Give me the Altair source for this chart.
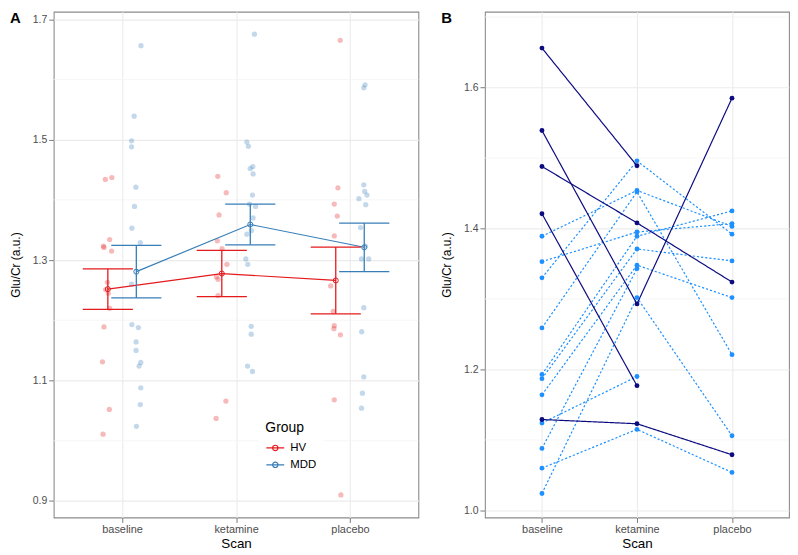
import altair as alt
import pandas as pd

FONT = "Liberation Sans"
scans = ["baseline", "ketamine", "placebo"]
groups = ["HV", "MDD"]
group_colors = ["#e41a1c", "#377eb8"]
panel_labels = ["A", "B"]

# ---------------- Panel A: Glu/Cr values and horizontal jitter (category units)
hv_baseline = [1.434, 1.437, 1.334, 1.323, 1.321, 1.315, 1.263, 1.251, 1.245, 1.220, 1.189, 1.131, 1.052, 1.011]
hv_baseline_jit = [-0.022, 0.035, 0.016, -0.039, -0.034, 0.033, -0.004, -0.019, 0.004, 0.016, -0.034, -0.047, 0.013, -0.042]
mdd_baseline = [1.656, 1.539, 1.498, 1.488, 1.421, 1.389, 1.353, 1.329, 1.260, 1.193, 1.188, 1.164, 1.150, 1.130, 1.124, 1.088, 1.060, 1.024]
mdd_baseline_jit = [0.041, -0.019, -0.042, -0.042, -0.004, -0.016, -0.039, 0.035, -0.042, -0.039, 0.018, -0.002, -0.002, 0.039, 0.024, 0.039, 0.035, 0.001]
hv_ketamine = [1.439, 1.412, 1.375, 1.332, 1.319, 1.293, 1.272, 1.268, 1.241, 1.066, 1.037]
hv_ketamine_jit = [-0.035, 0.039, -0.024, -0.039, 0.002, 0.045, -0.047, -0.033, -0.033, 0.036, -0.050]
mdd_ketamine = [1.675, 1.496, 1.489, 1.452, 1.455, 1.443, 1.408, 1.393, 1.389, 1.370, 1.349, 1.343, 1.302, 1.293, 1.190, 1.177, 1.124, 1.115]
mdd_ketamine_jit = [0.036, -0.030, -0.016, -0.001, 0.022, 0.025, 0.019, -0.007, 0.047, 0.025, 0.010, -0.030, -0.039, -0.022, 0.008, 0.008, -0.024, 0.019]
hv_placebo = [1.665, 1.420, 1.393, 1.373, 1.340, 1.257, 1.215, 1.191, 1.186, 1.176, 1.068, 0.910]
hv_placebo_jit = [0.039, 0.019, -0.013, 0.013, -0.013, -0.045, -0.022, -0.013, -0.016, 0.041, -0.013, 0.045]
mdd_placebo = [1.591, 1.586, 1.425, 1.414, 1.408, 1.402, 1.392, 1.354, 1.323, 1.302, 1.302, 1.221, 1.181, 1.106, 1.079, 1.054]
mdd_placebo_jit = [0.007, -0.004, -0.004, 0.004, 0.024, -0.047, 0.013, -0.033, 0.010, -0.024, 0.039, -0.004, -0.022, -0.004, -0.016, -0.024]

dodge = {"HV": -0.125, "MDD": 0.125}
cells = [
    ("HV", "baseline", hv_baseline, hv_baseline_jit),
    ("MDD", "baseline", mdd_baseline, mdd_baseline_jit),
    ("HV", "ketamine", hv_ketamine, hv_ketamine_jit),
    ("MDD", "ketamine", mdd_ketamine, mdd_ketamine_jit),
    ("HV", "placebo", hv_placebo, hv_placebo_jit),
    ("MDD", "placebo", mdd_placebo, mdd_placebo_jit),
]
rows = []
for g, s, vals, jits in cells:
    idx = scans.index(s) + 1
    for v, j in zip(vals, jits):
        rows.append({"group": g, "scan": s, "scan_idx": idx, "value": v,
                     "x": idx + dodge[g] + j})
dfA = pd.DataFrame(rows)

yA_ticks = [0.9, 1.1, 1.3, 1.5, 1.7]
yA_minor = [1.0, 1.2, 1.4, 1.6]
yA_domain = [0.8726, 1.7124]

# ---------------- Panel B: per-subject trajectories (None = no scan)
b_subset = ["S2"] * 11 + ["S1"] * 5
b_baseline = [1.389, 1.353, 1.330, 1.259, 1.193, 1.187, 1.164, 1.124, 1.088, 1.060, 1.024,
              1.656, 1.539, 1.488, 1.421, 1.129]
b_ketamine = [1.454, 1.395, 1.496, 1.452, 1.389, 1.371, 1.348, 1.190, 1.343, 1.115, 1.302,
              1.489, 1.293, 1.408, 1.177, 1.123]
b_placebo = [1.403, 1.407, 1.392, 1.221, 1.425, 1.354, 1.302, None, None, 1.054, 1.106,
             None, 1.585, 1.324, None, 1.079]

rowsB = []
for i, sub in enumerate(b_subset):
    for k, arr in enumerate([b_baseline, b_ketamine, b_placebo]):
        if arr[i] is not None:
            rowsB.append({"subject": i, "subset": sub, "scan_idx": k + 1, "value": arr[i]})
dfB = pd.DataFrame(rowsB)
dfB = pd.concat([dfB[dfB.subset == "S2"], dfB[dfB.subset == "S1"]])

yB_ticks = [1.0, 1.2, 1.4, 1.6]
yB_minor = [1.1, 1.3, 1.5, 1.7]
yB_domain = [0.990, 1.7076]

WA, WB, H = 367, 306, 509
label_expr = "[" + ",".join("'%s'" % s for s in scans) + "][datum.value - 1]"

def x_axis():
    return alt.Axis(values=[1, 2, 3], labelExpr=label_expr, title="Scan",
                    labelFontSize=11, titleFontSize=13.5, labelPadding=1, titlePadding=2,
                    tickSize=5, grid=True)

def y_axis(ticks):
    return alt.Axis(values=ticks, format=".1f", title="Glu/Cr (a.u.)",
                    labelFontSize=10.5, titleFontSize=12, labelPadding=2, titlePadding=10,
                    tickSize=5, grid=True)

def X(field, **kw):
    return alt.X(field + ":Q", scale=alt.Scale(domain=[0.4, 3.6], nice=False, zero=False), axis=x_axis(), **kw)

def YA(field):
    return alt.Y(field + ":Q", scale=alt.Scale(domain=yA_domain, nice=False, zero=False), axis=y_axis(yA_ticks))

def YB(field):
    return alt.Y(field + ":Q", scale=alt.Scale(domain=yB_domain, nice=False, zero=False), axis=y_axis(yB_ticks))

cscale = alt.Scale(domain=groups, range=group_colors)

legendA = alt.Legend(
    title="Group", orient="none", legendX=206, legendY=405,
    symbolType="M-1,0L1,0M-0.3,0A0.3,0.3 0 1 1 0.3,0A0.3,0.3 0 1 1 -0.3,0",
    symbolSize=324, symbolStrokeWidth=1.2, symbolFillColor="transparent",
    titleFontSize=14, titleFontWeight="normal", titleFont=FONT, titleColor="black",
    labelFontSize=11.5, labelFont=FONT, labelColor="black",
    fillColor="white", padding=7, rowPadding=1, labelOffset=5, titlePadding=3,
)

minorA = alt.Chart(pd.DataFrame({"v": yA_minor})).mark_rule(color="#f4f4f4", strokeWidth=0.8).encode(y=YA("v"))
pointsA = alt.Chart(dfA).mark_circle(size=28, opacity=0.3).encode(
    x=X("x"), y=YA("value"), color=alt.Color("group:N", scale=cscale, legend=None))

means = alt.Chart(dfA).transform_aggregate(
    mean="mean(value)", se="stderr(value)", groupby=["group", "scan_idx"]
).transform_calculate(
    xc="datum.scan_idx + (datum.group == 'HV' ? -0.125 : 0.125)"
).transform_calculate(
    lo="datum.mean - datum.se", hi="datum.mean + datum.se",
    xl="datum.xc - 0.22", xr="datum.xc + 0.22")

lineA = means.mark_line(strokeWidth=1.2).encode(
    x=X("xc"), y=YA("mean"), color=alt.Color("group:N", scale=cscale, legend=legendA))
barA = means.mark_rule(strokeWidth=1.3).encode(
    x=X("xc"), y=YA("lo"), y2="hi:Q", color=alt.Color("group:N", scale=cscale, legend=None))
capHi = means.mark_rule(strokeWidth=1.3).encode(
    x=X("xl"), x2="xr:Q", y=YA("hi"), color=alt.Color("group:N", scale=cscale, legend=None))
capLo = means.mark_rule(strokeWidth=1.3).encode(
    x=X("xl"), x2="xr:Q", y=YA("lo"), color=alt.Color("group:N", scale=cscale, legend=None))
meanPt = means.mark_point(filled=False, size=26, strokeWidth=1, opacity=1).encode(
    x=X("xc"), y=YA("mean"), color=alt.Color("group:N", scale=cscale, legend=None))

def tag(letter):
    return alt.Chart(pd.DataFrame({"t": [letter]})).mark_text(
        font=FONT, fontSize=15, fontWeight="bold", align="left", baseline="alphabetic", color="black"
    ).encode(text="t:N", x=alt.value(-44), y=alt.value(11))

panelA = alt.layer(minorA, pointsA, lineA, barA, capHi, capLo, meanPt, tag(panel_labels[0])).resolve_scale(
    color="independent").properties(width=WA, height=H)

bscale = alt.Scale(domain=["S1", "S2"], range=["#0c0c80", "#1e90ff"])
minorB = alt.Chart(pd.DataFrame({"v": yB_minor})).mark_rule(color="#f4f4f4", strokeWidth=0.8).encode(y=YB("v"))
linesB = alt.Chart(dfB).mark_line(strokeWidth=1.2).encode(
    x=X("scan_idx"), y=YB("value"), detail="subject:N",
    color=alt.Color("subset:N", scale=bscale, legend=None),
    strokeDash=alt.StrokeDash("subset:N", scale=alt.Scale(domain=["S1", "S2"], range=[[1, 0], [2.2, 2]]), legend=None))
pointsB = alt.Chart(dfB).mark_circle(size=24, opacity=1).encode(
    x=X("scan_idx"), y=YB("value"), color=alt.Color("subset:N", scale=bscale, legend=None))

panelB = alt.layer(minorB, linesB, pointsB, tag(panel_labels[1])).properties(width=WB, height=H)

chart = alt.hconcat(panelA, panelB, spacing=20).properties(padding=0).configure_view(
    stroke="#8c8c8c", strokeWidth=1.1
).configure_axis(
    domain=False, tickColor="#7a7a7a", tickWidth=1, gridColor="#ebebeb", gridWidth=1.1,
    labelFont=FONT, titleFont=FONT, labelColor="#4d4d4d", titleColor="black", titleFontWeight="normal"
)

chart.save("out.html", embed_options={"renderer": "svg", "actions": False})
